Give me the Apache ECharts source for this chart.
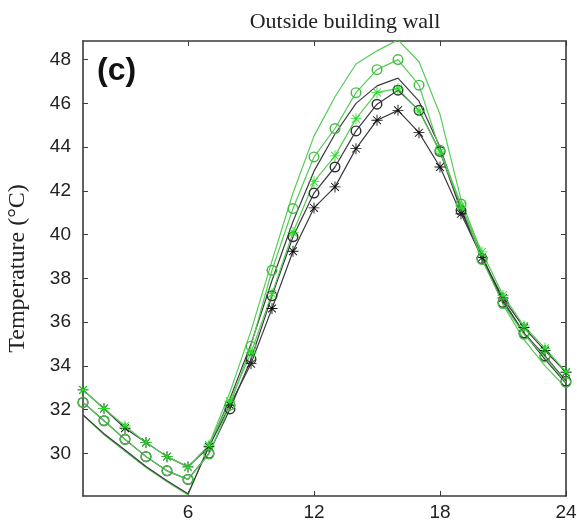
<!DOCTYPE html>
<html>
<head>
<meta charset="utf-8">
<script src="https://cdn.jsdelivr.net/npm/echarts@6/dist/echarts.min.js"></script>
<style>
  html, body { margin: 0; padding: 0; background: #fff; }
  #chart { width: 577px; height: 524px; }
</style>
</head>
<body>
<div id="chart"></div>
<script>
// Hour of day
const hours = [1,2,3,4,5,6,7,8,9,10,11,12,13,14,15,16,17,18,19,20,21,22,23,24];

// Wall surface temperatures (°C)
const greenPlain  = [31.75,30.85,30.1,29.35,28.7,28.1,30.4,32.8,35.6,38.8,41.9,44.5,46.3,47.8,48.4,48.9,47.9,45.5,41.6,39.1,36.8,35.2,34.0,33.0];
const greenCircle = [32.33,31.49,30.64,29.85,29.2,28.81,29.97,32.2,34.9,38.37,41.19,43.55,44.85,46.49,47.54,48.0,46.83,43.86,41.4,38.86,36.85,35.44,34.41,33.24];
const blackPlain  = [31.75,30.9,30.15,29.4,28.75,28.15,30.3,32.5,35.0,37.9,40.6,42.9,44.6,46.0,46.8,47.15,46.1,44.0,41.2,39.0,37.0,35.5,34.3,33.2];
const greenStar   = [32.9,32.05,31.25,30.5,29.85,29.38,30.38,32.38,34.6,37.3,40.1,42.42,43.6,45.3,46.5,46.67,45.65,43.78,41.3,39.21,37.23,35.82,34.8,33.73];
const blackCircle = [32.33,31.49,30.64,29.85,29.2,28.81,30.0,32.03,34.3,37.2,39.9,41.9,43.09,44.74,45.96,46.6,45.68,43.8,41.1,38.9,36.9,35.5,34.45,33.3];
const blackStar   = [32.9,32.05,31.15,30.5,29.85,29.38,30.3,32.2,34.1,36.62,39.24,41.22,42.18,43.93,45.23,45.68,44.66,43.09,40.95,38.95,37.1,35.75,34.7,33.7];

// Axis ticks
const xTicks = [6,12,18,24];
const yTicks = [30,32,34,36,38,40,42,44,46,48];

const GREEN_LINE = '#55cc55';
const GREEN_MK = '#22e022';
const GREEN_O = '#44bb44';
const BLACK = '#3d3842';

// asterisk marker: horizontal, vertical and two diagonal bars
const STAR = 'path://M0,9.2H20V10.8H0Z M9.2,0H10.8V20H9.2Z M2.3,3.5L3.5,2.3L17.7,16.5L16.5,17.7Z M16.5,2.3L17.7,3.5L3.5,17.7L2.3,16.5Z';
// hollow ring marker (outer clockwise, inner counter-clockwise)
const RING = 'path://M0,10A10,10,0,1,1,20,10A10,10,0,1,1,0,10Z M2.6,10A7.4,7.4,0,1,0,17.4,10A7.4,7.4,0,1,0,2.6,10Z';

function pts(arr) { return hours.map((h, i) => [h, arr[i]]); }

function line(name, data, color, symbol, mkColor, size) {
  return {
    name, type: 'line', data: pts(data),
    symbol: symbol || 'none',
    symbolSize: size || 10,
    showSymbol: !!symbol,
    lineStyle: { color, width: 1.2 },
    itemStyle: { color: mkColor || color },
    emphasis: { disabled: true },
    animation: false,
    z: 3
  };
}

const AXIS_COLOR = '#3a3a3a';
const LABEL = { fontFamily: 'Liberation Sans', fontSize: 19, color: '#222' };
const chart = echarts.init(document.getElementById('chart'));
chart.setOption({
  backgroundColor: '#fff',
  animation: false,
  title: {
    text: 'Outside building wall',
    left: 340, top: 6, textAlign: 'center',
    textStyle: { fontFamily: 'Liberation Serif', fontWeight: 'normal', fontSize: 22, color: '#222' }
  },
  grid: { left: 83, top: 41, right: 11, bottom: 28, outerBoundsMode: 'none', containLabel: false },
  xAxis: [{
    type: 'value', min: 1, max: 24,
    axisLine: { lineStyle: { color: AXIS_COLOR, width: 1.6 } },
    axisTick: { inside: true, length: 5, customValues: xTicks, lineStyle: { color: AXIS_COLOR } },
    axisLabel: Object.assign({ customValues: xTicks, margin: 7 }, LABEL),
    splitLine: { show: false }
  }, {
    type: 'value', min: 1, max: 24, position: 'top',
    axisLine: { lineStyle: { color: AXIS_COLOR, width: 1.6 } },
    axisTick: { inside: true, length: 5, customValues: xTicks, lineStyle: { color: AXIS_COLOR } },
    axisLabel: { show: false },
    splitLine: { show: false }
  }],
  yAxis: [{
    type: 'value', min: 28.05, max: 48.85,
    name: 'Temperature (°C)', nameLocation: 'middle', nameGap: 53,
    nameTextStyle: { fontFamily: 'Liberation Serif', fontSize: 24, color: '#222' },
    axisLine: { show: true, lineStyle: { color: AXIS_COLOR, width: 1.6 } },
    axisTick: { show: true, inside: true, length: 5, customValues: yTicks, lineStyle: { color: AXIS_COLOR } },
    axisLabel: Object.assign({ customValues: yTicks, margin: 12 }, LABEL),
    splitLine: { show: false }
  }, {
    type: 'value', min: 28.05, max: 48.85, position: 'right',
    axisLine: { show: true, lineStyle: { color: AXIS_COLOR, width: 1.6 } },
    axisTick: { show: true, inside: true, length: 5, customValues: yTicks, lineStyle: { color: AXIS_COLOR } },
    axisLabel: { show: false },
    splitLine: { show: false }
  }],
  graphic: [{
    type: 'text', left: 97, top: 55,
    style: { text: '(c)', fontFamily: 'Liberation Sans', fontWeight: 'bold', fontSize: 32, fill: '#111' }
  }],
  series: [
    line('greenPlain', greenPlain, GREEN_LINE),
    line('blackPlain', blackPlain, BLACK),
    line('blackStar', blackStar, BLACK, STAR, '#111', 11),
    line('blackCircle', blackCircle, BLACK, RING, '#333', 11),
    line('greenCircle', greenCircle, GREEN_LINE, RING, GREEN_O, 11),
    line('greenStar', greenStar, GREEN_LINE, STAR, GREEN_MK, 11)
  ]
});
</script>
</body>
</html>
